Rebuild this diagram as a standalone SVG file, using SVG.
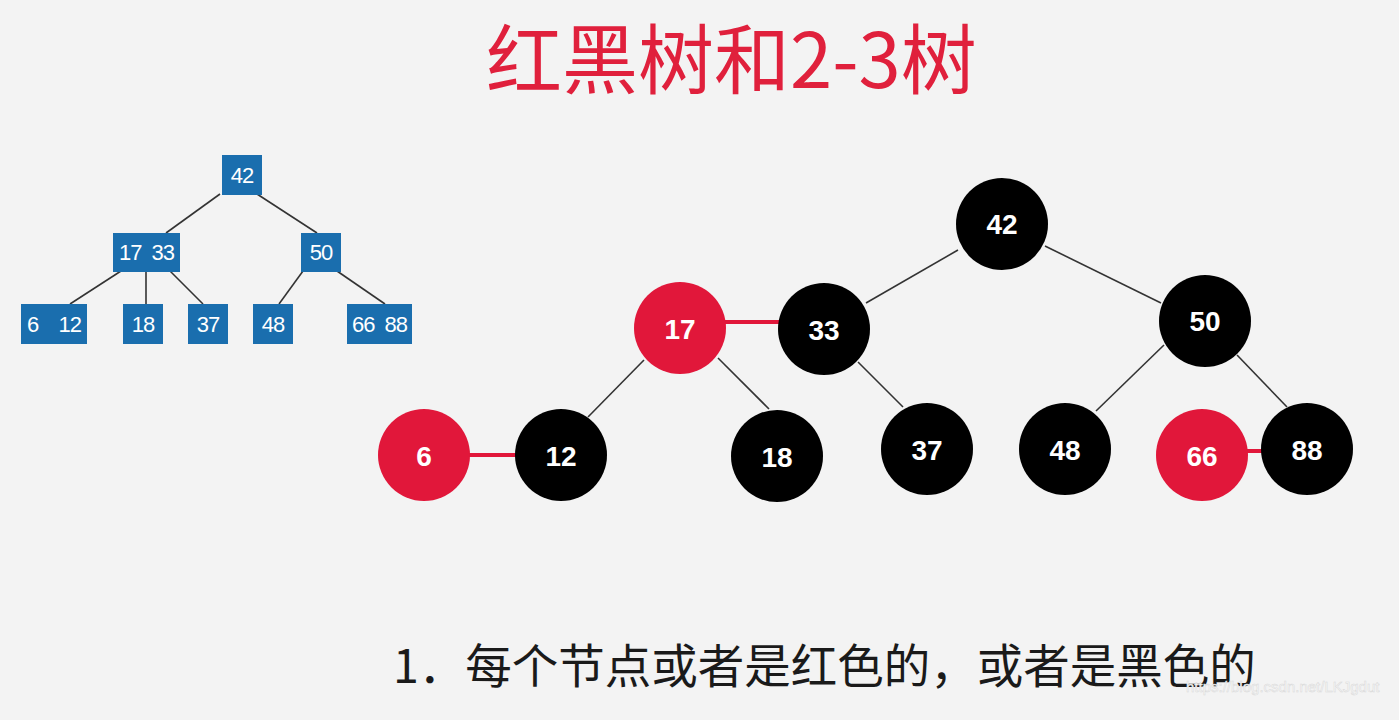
<svg xmlns="http://www.w3.org/2000/svg" width="1399" height="720" viewBox="0 0 1399 720">
<style>
.bg{fill:#f3f3f3}
.title{font-family:"Noto Sans CJK SC","Noto Sans",sans-serif;font-size:76px;fill:#e0203c;font-weight:400}
.box{fill:#1a6eae}
.bt{font-family:"Liberation Sans",Arial,sans-serif;font-size:22px;fill:#fff;text-anchor:middle;letter-spacing:-1px}
.bl{stroke:#333;stroke-width:1.6;fill:none}
.rn{fill:#e1173a}
.kn{fill:#000}
.nt{font-family:"Liberation Sans",Arial,sans-serif;font-size:28px;font-weight:bold;fill:#fff;text-anchor:middle}
.ln{stroke:#333;stroke-width:1.6;fill:none}
.rl{stroke:#e1173a;stroke-width:4;fill:none}
.cap{font-family:"Noto Sans CJK SC","Noto Sans",sans-serif;font-size:46.5px;fill:#1a1a1a}
.wm{font-family:"Liberation Sans",Arial,sans-serif;font-size:15px;fill:#fafafa;stroke:#d8d8d8;stroke-width:0.5}
</style>
<rect class="bg" x="0" y="0" width="1399" height="720"/>
<text class="title" x="486" y="88">红黑树和2-3树</text>

<g id="b-connectors">
<line class="bl" x1="220" y1="194" x2="166" y2="233"/>
<line class="bl" x1="257" y1="194" x2="317" y2="233"/>
<line class="bl" x1="121" y1="271" x2="70" y2="304"/>
<line class="bl" x1="146" y1="271" x2="146" y2="304"/>
<line class="bl" x1="170" y1="271" x2="203" y2="304"/>
<line class="bl" x1="303" y1="271" x2="279" y2="304"/>
<line class="bl" x1="337" y1="271" x2="385" y2="304"/>
</g>
<g id="b42"><rect class="box" x="222" y="155" width="40" height="40"/><text class="bt" x="242" y="183">42</text></g>
<g id="b1733"><rect class="box" x="113" y="233" width="67" height="39"/><text class="bt" x="146.5" y="260" xml:space="preserve">17  33</text></g>
<g id="b50"><rect class="box" x="301" y="233" width="40" height="39"/><text class="bt" x="321" y="260">50</text></g>
<g id="b612"><rect class="box" x="21" y="304" width="66" height="40"/><text class="bt" x="54" y="332" xml:space="preserve">6    12</text></g>
<g id="b18"><rect class="box" x="123" y="304" width="40" height="40"/><text class="bt" x="143" y="332">18</text></g>
<g id="b37"><rect class="box" x="188" y="304" width="40" height="40"/><text class="bt" x="208" y="332">37</text></g>
<g id="b48"><rect class="box" x="253" y="304" width="40" height="40"/><text class="bt" x="273" y="332">48</text></g>
<g id="b6688"><rect class="box" x="347" y="304" width="65" height="40"/><text class="bt" x="379.5" y="332" xml:space="preserve">66  88</text></g>

<g id="connectors">
<line class="ln" x1="958" y1="250" x2="866" y2="303"/>
<line class="ln" x1="1045" y1="246" x2="1161" y2="303"/>
<line class="ln" x1="644" y1="360" x2="588" y2="417"/>
<line class="ln" x1="718" y1="358" x2="769" y2="409"/>
<line class="ln" x1="858" y1="362" x2="903" y2="407"/>
<line class="ln" x1="1164" y1="345" x2="1096" y2="411"/>
<line class="ln" x1="1237" y1="355" x2="1287" y2="407"/>
<line class="rl" x1="722" y1="322" x2="782" y2="322"/>
<line class="rl" x1="466" y1="455" x2="519" y2="455"/>
<line class="rl" x1="1244" y1="451" x2="1266" y2="451"/>
</g>
<g id="n42"><circle class="kn" cx="1002" cy="224" r="46"/><text class="nt" x="1002" y="234">42</text></g>
<g id="n17"><circle class="rn" cx="680" cy="328" r="46"/><text class="nt" x="680" y="339">17</text></g>
<g id="n33"><circle class="kn" cx="824" cy="329" r="46"/><text class="nt" x="824" y="340">33</text></g>
<g id="n50"><circle class="kn" cx="1205" cy="321" r="46"/><text class="nt" x="1205" y="331">50</text></g>
<g id="n6"><circle class="rn" cx="424" cy="455" r="46"/><text class="nt" x="424" y="466">6</text></g>
<g id="n12"><circle class="kn" cx="561" cy="455" r="46"/><text class="nt" x="561" y="466">12</text></g>
<g id="n18"><circle class="kn" cx="777" cy="456" r="46"/><text class="nt" x="777" y="467">18</text></g>
<g id="n37"><circle class="kn" cx="927" cy="449" r="46"/><text class="nt" x="927" y="460">37</text></g>
<g id="n48"><circle class="kn" cx="1065" cy="449" r="46"/><text class="nt" x="1065" y="460">48</text></g>
<g id="n66"><circle class="rn" cx="1202" cy="455" r="46"/><text class="nt" x="1202" y="466">66</text></g>
<g id="n88"><circle class="kn" cx="1307" cy="449" r="46"/><text class="nt" x="1307" y="460">88</text></g>

<text class="cap" x="393" y="683">1．每个节点或者是红色的，或者是黑色的</text>
<text class="wm" x="1186" y="692">https://blog.csdn.net/LKJgdut</text>
</svg>
